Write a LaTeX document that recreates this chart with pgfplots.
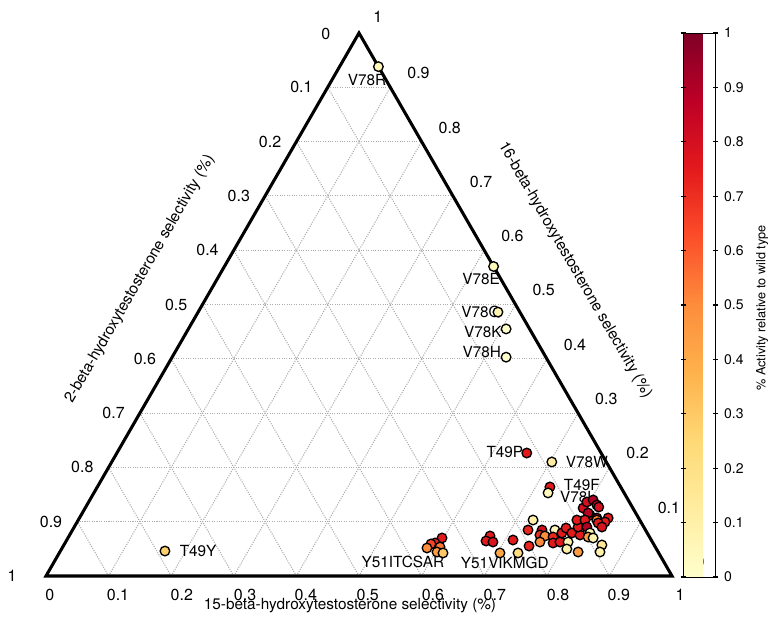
\documentclass[border=0pt]{standalone}
\usepackage{fontspec}
\setmainfont{TeX Gyre Heros}
\usepackage{pgfplots}
\pgfplotsset{compat=1.18}
\newcommand\lab{\fontsize{12}{13.5}\selectfont}
\pgfplotstableread{
x h c
0.531 0.938 0.05
0.715 0.570 0.05
0.722 0.486 0.08
0.735 0.455 0.00
0.735 0.403 0.00
0.768 0.2265 0.75
0.808 0.210 0.12
0.805 0.164 0.75
0.802 0.153 0.05
0.190 0.046 0.28
0.6326 0.070 0.75
0.6214 0.0608 0.72
0.615 0.059 0.65
0.6086 0.0516 0.50
0.6294 0.0534 0.55
0.6246 0.0442 0.45
0.6342 0.0424 0.30
0.7093 0.0737 0.75
0.7029 0.0645 0.75
0.714 0.0626 0.78
0.746 0.0663 0.75
0.7252 0.0424 0.42
0.754 0.0424 0.22
0.778 0.1031 0.10
0.770 0.0847 0.72
0.7716 0.0552 0.72
0.7923 0.0847 0.80
0.789 0.0755 0.70
0.797 0.0737 0.50
0.789 0.0626 0.50
0.813 0.0847 0.05
0.810 0.0718 0.72
0.810 0.0608 0.75
0.821 0.0626 0.75
0.824 0.0792 0.75
0.8307 0.0884 0.75
0.840 0.0792 0.75
0.834 0.0626 0.08
0.832 0.0497 0.10
0.850 0.0442 0.45
0.853 0.0755 0.75
0.850 0.0902 0.75
0.848 0.1031 0.75
0.858 0.1252 0.80
0.864 0.1363 0.80
0.874 0.1400 0.90
0.880 0.1308 0.85
0.883 0.1270 0.80
0.869 0.1123 0.80
0.866 0.1160 0.88
0.861 0.1031 0.75
0.880 0.1068 0.90
0.880 0.1031 0.50
0.898 0.1068 0.75
0.893 0.0994 0.75
0.882 0.0976 0.75
0.864 0.0902 0.90
0.888 0.0902 0.78
0.869 0.0792 0.08
0.866 0.0718 0.45
0.874 0.0700 0.08
0.888 0.0571 0.15
0.885 0.0442 0.10
}\pts
\begin{document}
\begin{tikzpicture}
\begin{axis}[
  x=469.5pt, y=407.25pt,
  xmin=0, xmax=1, ymin=0, ymax=1,
  axis lines=none, clip=false,
  colormap={ylorrd}{rgb255(0cm)=(255,255,204); rgb255(1cm)=(255,237,160); rgb255(2cm)=(254,217,118); rgb255(3cm)=(254,178,76); rgb255(4cm)=(253,141,60); rgb255(5cm)=(252,78,42); rgb255(6cm)=(227,26,28); rgb255(7cm)=(189,0,38); rgb255(8cm)=(128,0,38)},
  point meta min=0, point meta max=1,
  colorbar,
  colorbar style={
    at={([xshift=17.25pt]parent axis.north east)}, anchor=north west,
    width=24pt, height=408pt,
    ytick={0,0.1,0.2,0.3,0.4,0.5,0.6,0.7,0.8,0.9,1},
    yticklabel style={font=\fontsize{10.5}{12}\selectfont, xshift=1pt},
    /pgf/number format/assume math mode=true,
    /pgf/number format/fixed,
    tick align=center, major tick length=4pt,
    tick style={black, line width=0.9pt},
    axis line style={black, line width=0.7pt},
  },
]
% invisible frame fixing the picture size
\path (axis cs:-0.07348,-0.07551) rectangle (axis cs:1.16294,1.06077);
% grid
\begin{scope}[gray!65, densely dotted, line width=0.8pt]
\draw (axis cs:0.1,0) -- (axis cs:0.55,0.9);
\draw (axis cs:0.2,0) -- (axis cs:0.6,0.8);
\draw (axis cs:0.3,0) -- (axis cs:0.65,0.7);
\draw (axis cs:0.4,0) -- (axis cs:0.7,0.6);
\draw (axis cs:0.5,0) -- (axis cs:0.75,0.5);
\draw (axis cs:0.6,0) -- (axis cs:0.8,0.4);
\draw (axis cs:0.7,0) -- (axis cs:0.85,0.3);
\draw (axis cs:0.8,0) -- (axis cs:0.9,0.2);
\draw (axis cs:0.9,0) -- (axis cs:0.95,0.1);
\draw (axis cs:0.1,0) -- (axis cs:0.05,0.1);
\draw (axis cs:0.2,0) -- (axis cs:0.1,0.2);
\draw (axis cs:0.3,0) -- (axis cs:0.15,0.3);
\draw (axis cs:0.4,0) -- (axis cs:0.2,0.4);
\draw (axis cs:0.5,0) -- (axis cs:0.25,0.5);
\draw (axis cs:0.6,0) -- (axis cs:0.3,0.6);
\draw (axis cs:0.7,0) -- (axis cs:0.35,0.7);
\draw (axis cs:0.8,0) -- (axis cs:0.4,0.8);
\draw (axis cs:0.9,0) -- (axis cs:0.45,0.9);
\draw (axis cs:0.05,0.1) -- (axis cs:0.95,0.1);
\draw (axis cs:0.1,0.2) -- (axis cs:0.9,0.2);
\draw (axis cs:0.15,0.3) -- (axis cs:0.85,0.3);
\draw (axis cs:0.2,0.4) -- (axis cs:0.8,0.4);
\draw (axis cs:0.25,0.5) -- (axis cs:0.75,0.5);
\draw (axis cs:0.3,0.6) -- (axis cs:0.7,0.6);
\draw (axis cs:0.35,0.7) -- (axis cs:0.65,0.7);
\draw (axis cs:0.4,0.8) -- (axis cs:0.6,0.8);
\draw (axis cs:0.45,0.9) -- (axis cs:0.55,0.9);
\end{scope}
% triangle
\draw[black, line width=2.3pt, line join=miter] (axis cs:0,0) -- (axis cs:1,0) -- (axis cs:0.5,1) -- cycle;
\begin{scope}[font=\lab]
% bottom tick labels
\node at (axis cs:0.006,-0.035) {0};
\node at (axis cs:0.115,-0.035) {0.1};
\node at (axis cs:0.217,-0.035) {0.2};
\node at (axis cs:0.318,-0.035) {0.3};
\node at (axis cs:0.415,-0.035) {0.4};
\node at (axis cs:0.514,-0.035) {0.5};
\node at (axis cs:0.618,-0.035) {0.6};
\node at (axis cs:0.717,-0.035) {0.7};
\node at (axis cs:0.818,-0.035) {0.8};
\node at (axis cs:0.915,-0.035) {0.9};
\node at (axis cs:1.013,-0.035) {1};
% left tick labels
\node at (axis cs:0.447,0.998) {0};
\node at (axis cs:0.408,0.9) {0.1};
\node at (axis cs:0.358,0.8) {0.2};
\node at (axis cs:0.308,0.7) {0.3};
\node at (axis cs:0.258,0.6) {0.4};
\node at (axis cs:0.208,0.5) {0.5};
\node at (axis cs:0.158,0.4) {0.6};
\node at (axis cs:0.108,0.3) {0.7};
\node at (axis cs:0.058,0.2) {0.8};
\node at (axis cs:0.008,0.1) {0.9};
\node at (axis cs:-0.054,0.0) {1};
% right tick labels
\node at (axis cs:1.045,0.026) {0};
\node at (axis cs:0.995,0.126) {0.1};
\node at (axis cs:0.945,0.226) {0.2};
\node at (axis cs:0.895,0.326) {0.3};
\node at (axis cs:0.845,0.426) {0.4};
\node at (axis cs:0.795,0.526) {0.5};
\node at (axis cs:0.745,0.626) {0.6};
\node at (axis cs:0.695,0.726) {0.7};
\node at (axis cs:0.645,0.826) {0.8};
\node at (axis cs:0.595,0.926) {0.9};
\node at (axis cs:0.530,1.029) {1};
\end{scope}
% axis titles
\begin{scope}[font=\fontsize{11.5}{13}\selectfont]
\node at (axis cs:0.4856,-0.0552) {15-beta-hydroxytestosterone selectivity (\%)};
\node[rotate=60] at (axis cs:0.150,0.547) {2-beta-hydroxytestosterone selectivity (\%)};
\node[rotate=-60] at (axis cs:0.845,0.5635) {16-beta-hydroxytestosterone selectivity (\%)};
% point labels
\node at (axis cs:0.513,0.913) {V78R};
\node at (axis cs:0.695,0.547) {V78E};
\node at (axis cs:0.695,0.486) {V78Q};
\node at (axis cs:0.698,0.449) {V78K};
\node at (axis cs:0.696,0.4125) {V78H};
\node at (axis cs:0.733,0.228) {T49P};
\node at (axis cs:0.864,0.210) {V78W};
\node at (axis cs:0.856,0.1676) {T49F};
\node at (axis cs:0.850,0.1455) {V78L};
\node at (axis cs:0.243,0.046) {T49Y};
\node at (axis cs:0.570,0.0258) {Y51ITCSAR};
\node at (axis cs:0.733,0.024) {Y51VIKMGD};
\end{scope}
\node[rotate=90, font=\fontsize{9.5}{11}\selectfont] at (axis cs:1.1438,0.4936) {\% Activity relative to wild type};
% data
\addplot[scatter, only marks, mark=*, mark size=3.6pt, scatter src=explicit,
  scatter/use mapped color={draw=black, fill=mapped color},
  mark options={line width=1pt}]
  table[x=x, y=h, meta=c] {\pts};
\end{axis}
\end{tikzpicture}
\end{document}
